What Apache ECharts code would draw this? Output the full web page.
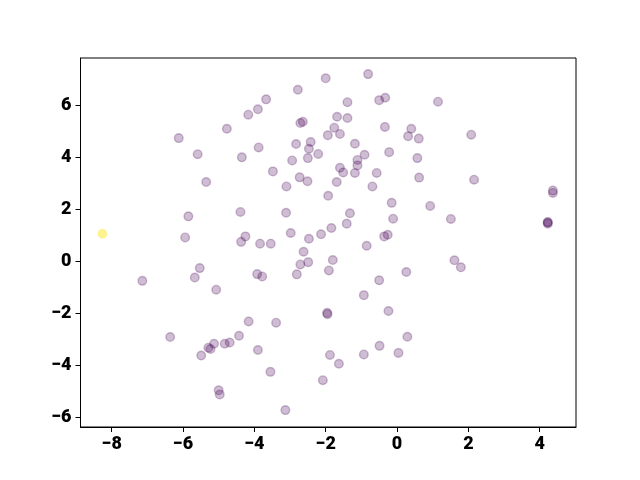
<!DOCTYPE html>
<html>
<head>
<meta charset="utf-8">
<script src="https://cdn.jsdelivr.net/npm/echarts@6/dist/echarts.min.js"></script>
<style>
  html, body { margin: 0; padding: 0; background: #fff; }
</style>
</head>
<body>
<div id="main" style="width: 640px; height: 480px"></div>
<script>
// cluster 0 (purple) points
const clusterA = [
  [-7.14, -0.75], [-6.36, -2.91], [-6.12, 4.74], [-5.85, 1.73], [-5.94, 0.92],
  [-5.67, -0.62], [-5.53, -0.26], [-5.35, 3.05], [-5.59, 4.12], [-5.49, -3.62],
  [-5.29, -3.32], [-5.23, -3.37], [-5.13, -3.17], [-5.07, -1.09], [-5.00, -4.96],
  [-4.97, -5.12], [-4.83, -3.17], [-4.69, -3.12], [-4.77, 5.10], [-4.43, -2.86],
  [-4.39, 1.90], [-4.35, 4.00], [-4.37, 0.75], [-4.25, 0.96], [-4.17, 5.64],
  [-4.16, -2.31], [-3.90, 5.85], [-3.92, -0.49], [-3.78, -0.58], [-3.88, 4.38],
  [-3.90, -3.41], [-3.84, 0.68], [-3.67, 6.23], [-3.54, 0.68], [-3.55, -4.25],
  [-3.48, 3.46], [-3.39, -2.36], [-3.13, -5.72], [-3.10, 2.88], [-3.11, 1.87],
  [-2.98, 1.09], [-2.94, 3.88], [-2.83, 4.51], [-2.81, -0.50], [-2.78, 6.60],
  [-2.71, 5.32], [-2.64, 5.37], [-2.73, 3.23], [-2.71, -0.12], [-2.62, 0.37],
  [-2.50, 3.97], [-2.51, 3.08], [-2.49, -0.03], [-2.47, 0.87], [-2.47, 4.33],
  [-2.42, 4.59], [-2.21, 4.13], [-2.13, 1.04], [-2.08, -4.57], [-2.00, 7.04],
  [-1.96, -1.98], [-1.95, -2.03], [-1.93, 2.52], [-1.94, 4.85], [-1.91, -0.35],
  [-1.88, -3.60], [-1.84, 1.28], [-1.80, 0.05], [-1.76, 5.14], [-1.68, 5.56],
  [-1.69, 3.05], [-1.63, -3.94], [-1.60, 4.90], [-1.60, 3.60], [-1.51, 3.42],
  [-1.39, 6.12], [-1.39, 5.51], [-1.41, 1.45], [-1.32, 1.85], [-1.18, 4.52],
  [-1.18, 3.40], [-1.11, 3.90], [-1.11, 3.69], [-0.93, -1.30], [-0.93, -3.58],
  [-0.91, 4.10], [-0.85, 0.60], [-0.81, 7.20], [-0.69, 2.88], [-0.57, 3.40],
  [-0.50, 6.20], [-0.33, 6.29], [-0.50, -0.73], [-0.49, -3.25], [-0.36, 0.96],
  [-0.26, 1.02], [-0.34, 5.17], [-0.24, -1.91], [-0.22, 4.20], [-0.15, 2.25],
  [-0.11, 1.64], [0.04, -3.52], [0.26, -0.41], [0.29, -2.90], [0.31, 4.81],
  [0.40, 5.10], [0.57, 3.97], [0.61, 4.72], [0.62, 3.22], [0.93, 2.13],
  [1.15, 6.14], [1.51, 1.63], [1.61, 0.04], [1.79, -0.23], [2.08, 4.87],
  [2.16, 3.14], [4.37, 2.72], [4.37, 2.63], [4.23, 1.51], [4.23, 1.45],
  [4.22, 1.49]
];
// cluster 1 (yellow) points
const clusterB = [
  [-8.26, 1.06]
];

const xTicks = [-8, -6, -4, -2, 0, 2, 4];
const yTicks = [-6, -4, -2, 0, 2, 4, 6];

const myChart = echarts.init(document.getElementById("main"));

const fmt = (v) => (v < 0 ? "\u2212" + Math.abs(v) : String(v));

const axisCommon = {
  type: "value",
  axisLine: { show: true, onZero: false, lineStyle: { color: "#000", width: 1 } },
  axisTick: { show: true, inside: false, length: 5, lineStyle: { color: "#000", width: 1 } },
  splitLine: { show: false },
};

const labelStyle = {
  formatter: fmt,
  color: "#000",
  fontFamily: "Roboto",
  fontWeight: 900,
  fontSize: 18,
};

let options = {
  backgroundColor: "#fff",
  animation: false,
  grid: {
    left: 80.5,
    right: 64,
    top: 58,
    bottom: 53,
    show: true,
    borderColor: "#000",
    borderWidth: 1,
  },
  xAxis: Object.assign({}, axisCommon, {
    min: -8.874,
    max: 5.018,
    axisTick: Object.assign({}, axisCommon.axisTick, { customValues: xTicks }),
    axisLabel: Object.assign({ customValues: xTicks, margin: 8 }, labelStyle),
  }),
  yAxis: Object.assign({}, axisCommon, {
    min: -6.37,
    max: 7.82,
    axisTick: Object.assign({}, axisCommon.axisTick, { customValues: yTicks }),
    axisLabel: Object.assign({ customValues: yTicks, margin: 9 }, labelStyle),
  }),
  series: [
    {
      type: "scatter",
      name: "0",
      data: clusterA,
      symbolSize: 8.6,
      itemStyle: {
        color: "rgba(68,1,84,0.32)",
        borderColor: "rgba(68,1,84,0.32)",
        borderWidth: 1.4,
      },
    },
    {
      type: "scatter",
      name: "1",
      data: clusterB,
      symbolSize: 8.6,
      itemStyle: {
        color: "rgba(253,231,37,0.62)",
        borderColor: "rgba(253,231,37,0.4)",
        borderWidth: 1.4,
      },
    },
  ],
};

myChart.setOption(options);
</script>
</body>
</html>
